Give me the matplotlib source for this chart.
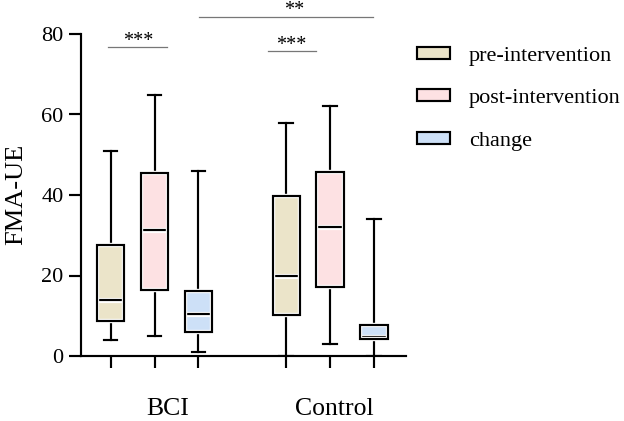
import matplotlib
matplotlib.use("Agg")
import matplotlib.pyplot as plt
from matplotlib.patches import Patch, PathPatch
import matplotlib.patheffects as pe

# ---- data ----
groups = ["BCI", "Control"]
series = ["pre-intervention", "post-intervention", "change"]
colors = ["#ebe4c9", "#fde1e3", "#cde0f7"]
positions = [1, 2, 3, 5, 6, 7]
whislo = [4, 5, 1, 0, 3, 0]
q1 = [8.8, 16.5, 6.0, 10.3, 17.2, 4.2]
med = [13.9, 31.4, 10.4, 19.9, 32.0, 4.8]
q3 = [27.6, 45.5, 16.1, 39.7, 45.6, 7.8]
whishi = [50.9, 64.9, 46.0, 58.0, 62.0, 34.0]
yticks = [0, 20, 40, 60, 80]
# significance brackets: (x start, x end, y, star x, label)
sig_x0 = [0.94, 4.58, 3.01]
sig_x1 = [2.28, 5.67, 6.98]
sig_y = [76.7, 75.8, 84.3]
sig_tx = [1.63, 5.12, 5.19]
sig_lab = ["***", "***", "**"]
group_label_x = [2.30, 6.09]

plt.rcParams['font.family'] = ['Liberation Serif', 'DejaVu Serif']

fig = plt.figure(figsize=(6.24, 4.21), dpi=100)
ax = fig.add_axes([81/624, 1-356/421, (405.7-81)/624, (356-34)/421])

LW = 1.55
stats = []
for i in range(len(positions)):
    stats.append(dict(med=med[i], q1=q1[i], q3=q3[i], whislo=whislo[i], whishi=whishi[i], fliers=[]))
bp = ax.bxp(stats, positions=positions, widths=0.625, patch_artist=True,
            showfliers=False, capwidths=0.31,
            boxprops=dict(linewidth=LW, edgecolor='black'),
            whiskerprops=dict(linewidth=LW, color='black'),
            capprops=dict(linewidth=LW, color='black'),
            medianprops=dict(linewidth=LW, color='black'))
for i, box in enumerate(bp['boxes']):
    box.set_facecolor(colors[i % 3])
    box.set_zorder(2)
for m in bp['medians']:
    m.set_zorder(4)
    m.set_path_effects([pe.Stroke(linewidth=LW + 2.2, foreground='white'), pe.Normal()])
for i, box in enumerate(bp['boxes']):
    outline = PathPatch(box.get_path(), transform=box.get_transform(), facecolor='none',
                        edgecolor='black', linewidth=LW, zorder=5)
    outline.set_path_effects([pe.Stroke(linewidth=LW + 1.6, foreground='white'), pe.Normal()])
    ax.add_patch(outline)

ax.set_xlim(0.325, 7.72)
ax.set_ylim(0, 80)
ax.set_yticks(yticks)
ax.set_xticks(positions)
ax.set_xticklabels([])
for s in ['top', 'right']:
    ax.spines[s].set_visible(False)
for s in ['left', 'bottom']:
    ax.spines[s].set_linewidth(LW)
ax.tick_params(axis='both', direction='out', length=8.6, width=LW, labelsize=16, pad=4)

for x0, x1, y, tx, lab in zip(sig_x0, sig_x1, sig_y, sig_tx, sig_lab):
    ax.plot([x0, x1], [y, y], color='#777777', lw=0.9, clip_on=False)
    ax.text(tx, y + 0.3, lab, ha='center', va='baseline', fontsize=14.5, clip_on=False)

for gx, g in zip(group_label_x, groups):
    xf = ax.transData.transform((gx, 0))[0] / fig.dpi / 6.24
    fig.text(xf, 1 - 415/421, g, ha='center', va='baseline', fontsize=18.5)

fig.text(16.7/624, 1 - 194/421, "FMA-UE", rotation=90, ha='center', va='center', fontsize=19)

handles = [Patch(facecolor=c, edgecolor='black', linewidth=LW) for c in colors]
fig.legend(handles, series, loc='upper left', bbox_to_anchor=(408/624, 1 - 38/421),
           frameon=False, fontsize=16, handlelength=1.5, handleheight=0.45,
           handletextpad=0.85, labelspacing=1.05, borderaxespad=0)

fig.savefig("out.png", dpi=100)
